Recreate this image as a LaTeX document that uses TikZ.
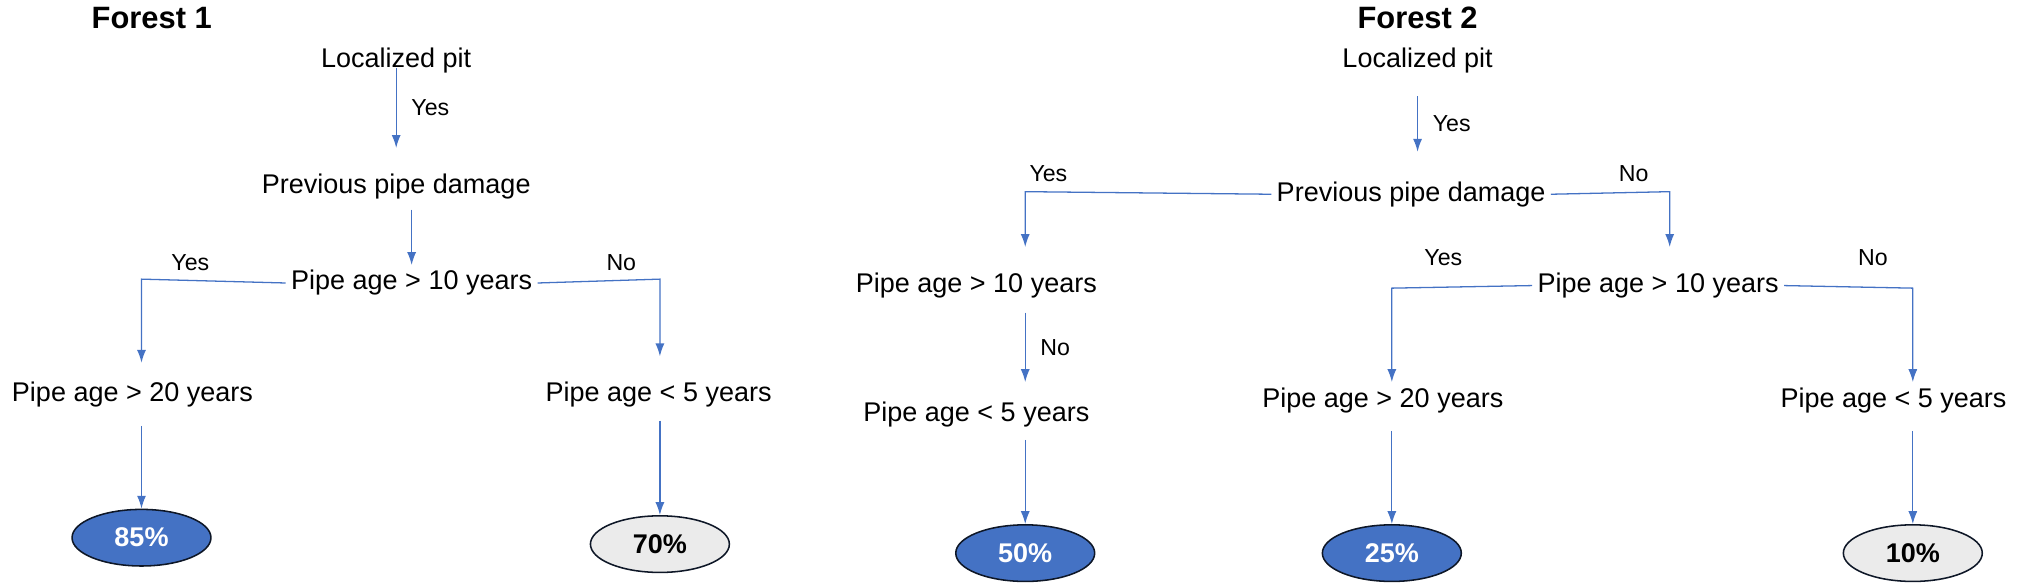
\documentclass[tikz,border=0pt]{standalone}
\usepackage{fontspec}
\setmainfont{Liberation Sans}
\usetikzlibrary{arrows.meta}
\definecolor{branch}{HTML}{4472C4}
\tikzset{
  every picture/.style={
    >={Latex[width=7pt, length=10pt]}
  },
  test/.style={font=\fontsize{21}{24}\selectfont, inner sep=4pt},
  title/.style={font=\fontsize{24}{28}\selectfont\bfseries},
  answer/.style={font=\fontsize{18}{20}\selectfont},
  leafhi/.style={ellipse, draw=black!80!branch, line width=1.2pt, fill=branch, text=white,
    minimum width=108pt, minimum height=44pt, font=\fontsize{21}{24}\selectfont\bfseries},
  leaflo/.style={leafhi, fill=black!8, text=black}
}
\usetikzlibrary{shapes.geometric}
\begin{document}
\begin{tikzpicture}[x=1pt, y=-1pt,
    link/.style={draw=branch, line width=1pt}]
  \useasboundingbox (0,0) rectangle (1568,457);
  % forest 1
  \node [title] (t1) at (118,14) {Forest 1};
  \node [test] (a1) at (308,47) {Localized pit};
  \node [test] (a2) at (308,145) {Previous pipe damage};
  \node [test] (a3) at (320,220) {Pipe age > 10 years};
  \node [test] (a4) at (103,307) {Pipe age > 20 years};
  \node [test] (a5) at (512,307) {Pipe age < 5 years};
  \node [leafhi] (l1) at (110,418) {85\%};
  \node [leaflo] (l2) at (513,423) {70\%};
  \draw [link,->] (a1.south) ++(0,-8) -- (308,115) node [answer,midway,right=8pt] {Yes};
  \draw [link,->] (320,163) -- (a3.north);
  \draw [link,->] (a3.west) -- (110,217) -- (110,282);
  \draw [link,->] (a3.east) -- (513,217) -- (513,277);
  \node [answer] at (148,204) {Yes};
  \node [answer] at (483,204) {No};
  \draw [link,->] (110,331) -- (l1.north);
  \draw [link,->] (513,327) -- (l2.north);
  % forest 2
  \node [title] (t2) at (1102,14) {Forest 2};
  \node [test] (b1) at (1102,47) {Localized pit};
  \node [test] (b2) at (1097,151) {Previous pipe damage};
  \node [test] (b3) at (759,222) {Pipe age > 10 years};
  \node [test] (b4) at (759,322) {Pipe age < 5 years};
  \node [test] (b5) at (1289,222) {Pipe age > 10 years};
  \node [test] (b6) at (1075,311) {Pipe age > 20 years};
  \node [test] (b7) at (1472,311) {Pipe age < 5 years};
  \node [leafhi] (m1) at (797,430) {50\%};
  \node [leafhi] (m2) at (1082,430) {25\%};
  \node [leaflo] (m3) at (1487,430) {10\%};
  \draw [link,->] (1102,75) -- (1102,118) node [answer,midway,right=8pt] {Yes};
  \draw [link,->] (b2.west) -- (797,149) -- (797,192);
  \draw [link,->] (b2.east) -- (1298,149) -- (1298,192);
  \node [answer] at (815,135) {Yes};
  \node [answer] at (1270,135) {No};
  \draw [link,->] (797,243) -- (797,297) node [answer,midway,right=8pt] {No};
  \draw [link,->] (797,342) -- (m1.north);
  \draw [link,->] (b5.west) -- (1082,224) -- (1082,297);
  \draw [link,->] (b5.east) -- (1487,224) -- (1487,297);
  \node [answer] at (1122,200) {Yes};
  \node [answer] at (1456,200) {No};
  \draw [link,->] (1082,335) -- (m2.north);
  \draw [link,->] (1487,335) -- (m3.north);
\end{tikzpicture}
\end{document}
